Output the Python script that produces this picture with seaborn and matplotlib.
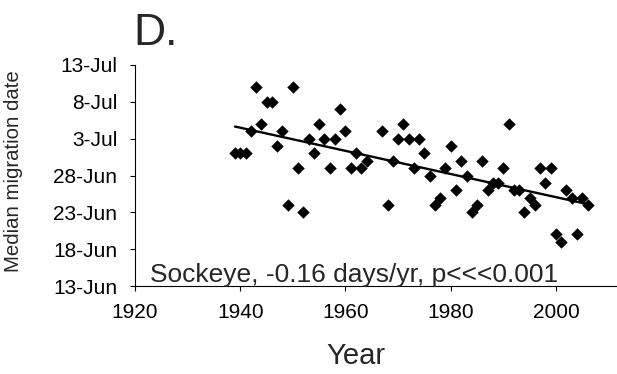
import numpy as np
import pandas as pd
import seaborn as sns
from matplotlib import pyplot as plt

# sockeye median migration date per year
years = [1939, 1940, 1941, 1942, 1943, 1944, 1945, 1946, 1947, 1948,
         1949, 1950, 1951, 1952, 1953, 1954, 1955, 1956, 1957, 1958,
         1959, 1960, 1961, 1962, 1963, 1964, 1967, 1968, 1969, 1970,
         1971, 1972, 1973, 1974, 1975, 1976, 1977, 1978, 1979, 1980,
         1981, 1982, 1983, 1984, 1985, 1986, 1987, 1988, 1989, 1990,
         1991, 1992, 1993, 1994, 1995, 1996, 1997, 1998, 1999, 2000,
         2001, 2002, 2003, 2004, 2005, 2006]
median_date = ["1-Jul", "1-Jul", "1-Jul", "4-Jul", "10-Jul", "5-Jul", "8-Jul", "8-Jul", "2-Jul", "4-Jul",
               "24-Jun", "10-Jul", "29-Jun", "23-Jun", "3-Jul", "1-Jul", "5-Jul", "3-Jul", "29-Jun", "3-Jul",
               "7-Jul", "4-Jul", "29-Jun", "1-Jul", "29-Jun", "30-Jun", "4-Jul", "24-Jun", "30-Jun", "3-Jul",
               "5-Jul", "3-Jul", "29-Jun", "3-Jul", "1-Jul", "28-Jun", "24-Jun", "25-Jun", "29-Jun", "2-Jul",
               "26-Jun", "30-Jun", "28-Jun", "23-Jun", "24-Jun", "30-Jun", "26-Jun", "27-Jun", "27-Jun", "29-Jun",
               "5-Jul", "26-Jun", "26-Jun", "23-Jun", "25-Jun", "24-Jun", "29-Jun", "27-Jun", "29-Jun", "20-Jun",
               "19-Jun", "26-Jun", "25-Jun", "20-Jun", "25-Jun", "24-Jun"]

tick_labels = ["13-Jun", "18-Jun", "23-Jun", "28-Jun", "3-Jul", "8-Jul", "13-Jul"]
year_ticks = [1920, 1940, 1960, 1980, 2000]

# day of year (non leap year)
def doy(s):
    return pd.to_datetime(s + "-2001", format="%d-%b-%Y").dayofyear

df = pd.DataFrame({"year": years, "day": [doy(d) for d in median_date]})
tick_days = [doy(t) for t in tick_labels]

sns.set_style("white")
plt.rcParams['font.family'] = ['Liberation Sans', 'DejaVu Sans']

fig = plt.figure(figsize=(6.17, 3.74), dpi=100)
ax = fig.add_axes([135 / 617, 1 - 286 / 374, 482 / 617, (286 - 65) / 374])

sns.regplot(data=df, x="year", y="day", ci=None, ax=ax,
            marker="D", color="black",
            scatter_kws={"s": 40, "linewidths": 0, "alpha": 1},
            line_kws={"linewidth": 1.7})

ax.set_xlim(1920, 2011.6)
ax.set_ylim(tick_days[0], tick_days[-1])
ax.set_xticks(year_ticks)
ax.set_yticks(tick_days)
ax.set_yticklabels(tick_labels)
ax.tick_params(axis="both", direction="out", length=3.6, width=0.8,
               pad=9, labelsize=15, colors="black", left=True, bottom=True)
sns.despine(ax=ax)
for sp in ["left", "bottom"]:
    ax.spines[sp].set_color("black")
    ax.spines[sp].set_linewidth(0.8)

ax.set_xlabel("Year", fontsize=21)
ax.xaxis.set_label_coords((356 - 135) / 482, -0.255)
ax.set_ylabel("Median migration date", fontsize=14.7)
ax.yaxis.set_label_coords(-0.232, 0.52)

fig.text(150 / 617, 1 - 282 / 374, "Sockeye, -0.16 days/yr, p<<<0.001",
         fontsize=19, va="baseline")
fig.text(133 / 617, 1 - 45 / 374, "D.", fontsize=32, va="baseline")

fig.savefig("out.png", dpi=100)
